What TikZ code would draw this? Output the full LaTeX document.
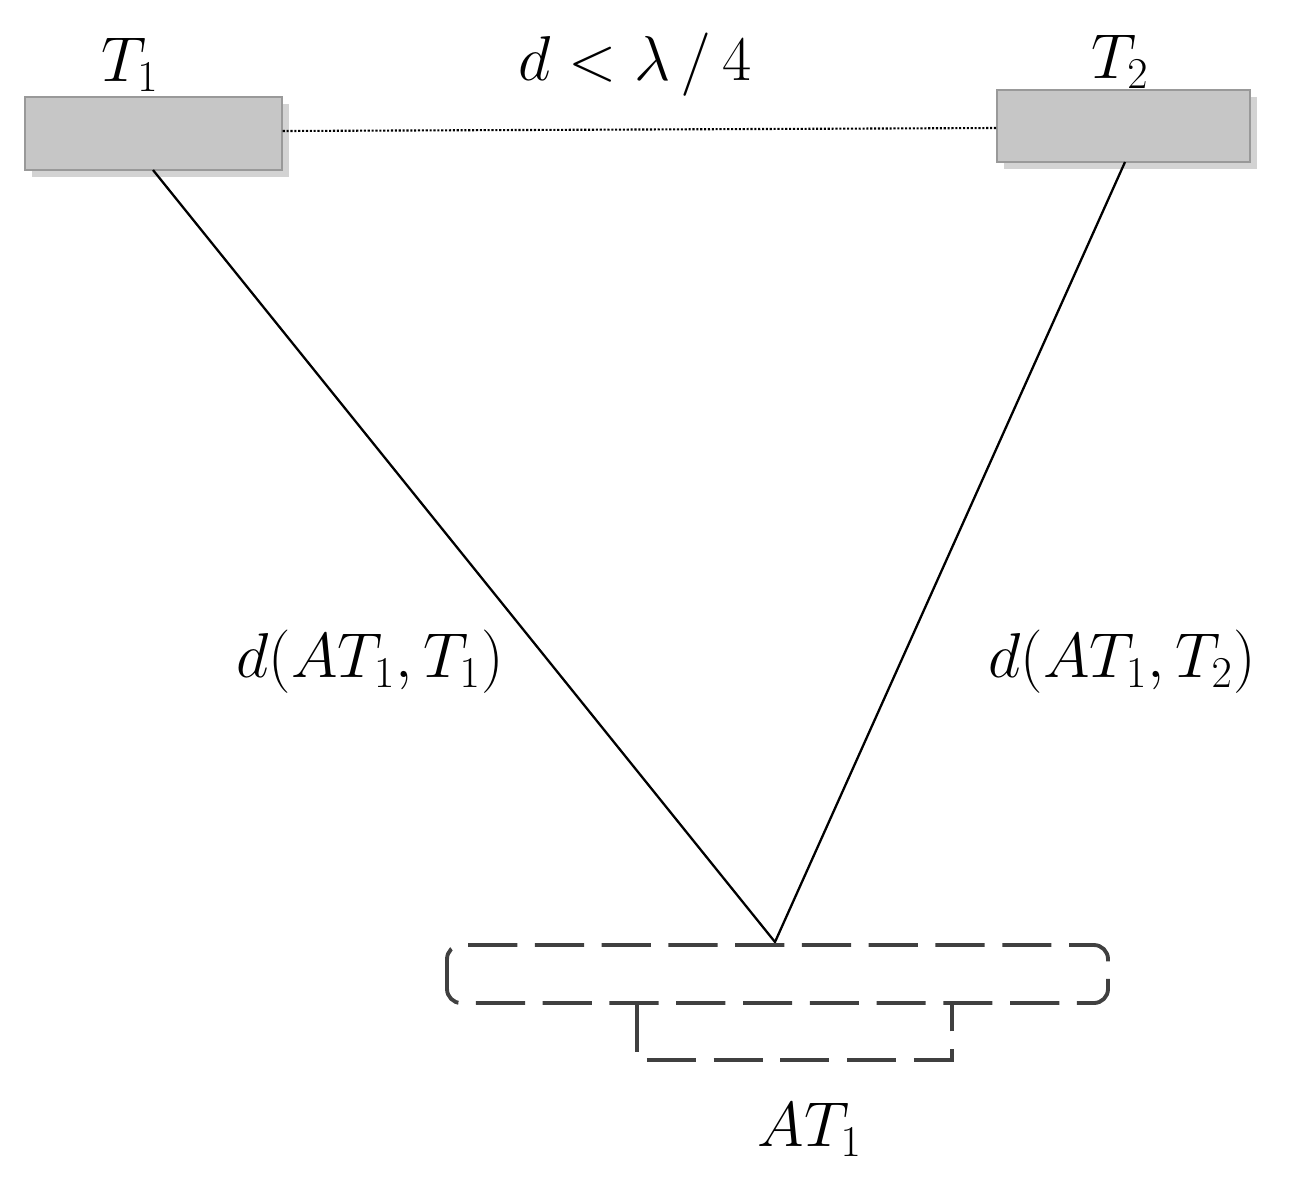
\documentclass[tikz,border=0pt]{standalone}
\usetikzlibrary{shadows}
\begin{document}
\begin{tikzpicture}[x=0.02cm,y=-0.02cm,
  tbox/.style={draw=gray!80,fill=gray!45,line width=0.8pt,drop shadow={opacity=0.35,shadow xshift=4pt,shadow yshift=-4pt}},
  lbl/.style={font=\fontsize{24}{28}\selectfont,scale=1.45,transform shape},
  dsh/.style={draw=black!75,line width=2.2pt,dash pattern=on 28pt off 10pt}]
\useasboundingbox (0,0) rectangle (1294,1181);
\node[tbox,minimum width=257*0.02cm,minimum height=73*0.02cm] (t1) at (153.5,133.5) {};
\node[tbox,minimum width=253*0.02cm,minimum height=72*0.02cm] (t2) at (1123.5,126) {};
\node[lbl] (l1) at (130,65) {$T_1$};
\node[lbl] (l2) at (1120,62) {$T_2$};
\node[lbl] (ld) at (635,65) {$d<\lambda\,/\,4$};
\draw[densely dotted,line width=1.2pt] (t1.east |- 0,131) coordinate (a) -- (t2.west |- 0,128) coordinate (b);
\coordinate (p) at (775,942);
\coordinate (q1) at (153,170);
\coordinate (q2) at (1125,162);
\draw[line width=1.3pt] (q1) -- (p) -- (q2);
\node[lbl] (la) at (370,662) {$d\Big(AT_1,T_1\Big)$};
\node[lbl] (lb) at (1122,662) {$d\Big(AT_1,T_2\Big)$};
\draw[dsh,rounded corners=8pt] (447,945) rectangle (1108,1003);
\draw[dsh] (637,1003) -- (637,1060) -- (952,1060) -- (952,1003);
\node[lbl] (lc) at (810,1130) {$AT_1$};
\end{tikzpicture}
\end{document}
